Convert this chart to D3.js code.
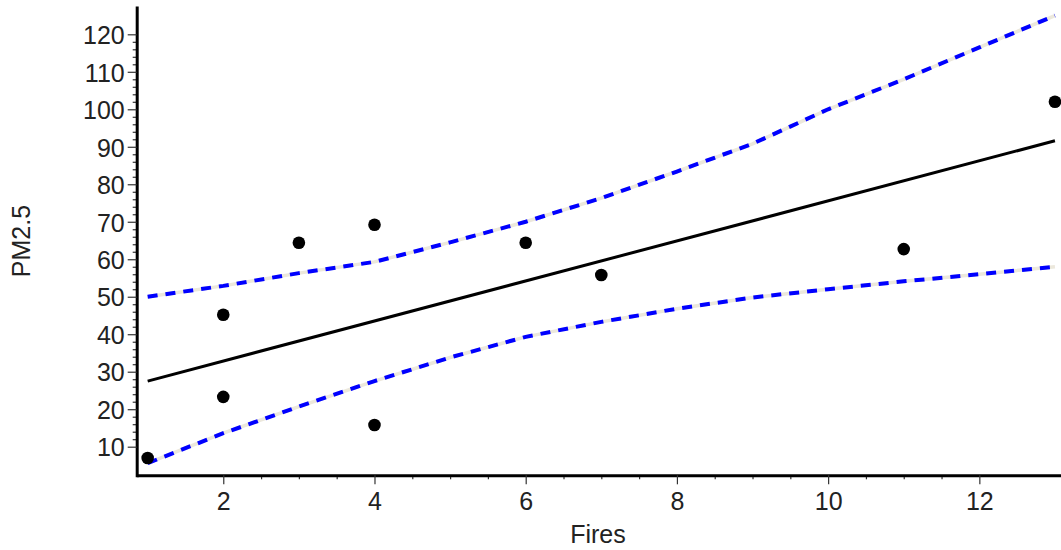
<!DOCTYPE html>
<html>
<head>
<meta charset="utf-8">
<script src="https://cdn.jsdelivr.net/npm/d3@7"></script>
<style>
  body { margin: 0; background: #fff; }
  text { font-family: "Liberation Sans", Arial, sans-serif; fill: #222; }
</style>
</head>
<body>
<div id="chart"></div>
<script>
// observations
const fires = [1, 2, 2, 3, 4, 4, 6, 7, 11, 13];
const pm25  = [7.0, 45.2, 23.3, 64.4, 69.2, 15.8, 64.4, 55.8, 62.7, 102.0];

// fitted line (ends)
const fitX = [1, 13];
const fitY = [27.5, 91.6];

// confidence band
const bandX     = [1, 2, 3, 4, 5, 6, 7, 8, 9, 10, 11, 12, 13];
const upperBand = [50.0, 52.9, 56.3, 59.3, 64.5, 70.0, 76.3, 83.4, 90.8, 100.0, 108.0, 116.5, 125.0];
const lowerBand = [5.6, 13.6, 20.7, 27.5, 33.8, 39.3, 43.3, 46.8, 49.8, 52.0, 54.1, 56.0, 58.0];

const xTicks = [2, 4, 6, 8, 10, 12];
const yTicks = [10, 20, 30, 40, 50, 60, 70, 80, 90, 100, 110, 120];

const width = 1061, height = 550;
const margin = ({top: 7.5, right: 0, bottom: 74.7, left: 136.7});

let x = d3.scaleLinear()
    .domain([0.855, 13.08])
    .range([margin.left, width - margin.right]);

let y = d3.scaleLinear()
    .domain([2.37, 127.15])
    .range([height - margin.bottom, margin.top]);

let svg = d3.select("#chart").append("svg").attr("width", width).attr("height", height);

// minor ticks first, then major ticks with labels
const xMinor = d3.range(xTicks[0], xTicks[xTicks.length - 1] + 0.01, 0.5).filter(v => v % 2 != 0);
const yMinor = d3.range(yTicks[0], yTicks[yTicks.length - 1] + 0.01, 2).filter(v => v % 10 != 0);

svg.append("g")
  .attr("transform", `translate(0,${height - margin.bottom})`)
  .call(d3.axisBottom(x).tickValues(xMinor).tickSize(4).tickFormat("").tickSizeOuter(0))
  .call(g => g.select(".domain").remove());

svg.append("g")
  .attr("transform", `translate(${margin.left},0)`)
  .call(d3.axisLeft(y).tickValues(yMinor).tickSize(4).tickFormat("").tickSizeOuter(0))
  .call(g => g.select(".domain").remove());

let xAxis = svg.append("g")
  .attr("transform", `translate(0,${height - margin.bottom})`)
  .call(d3.axisBottom(x).tickValues(xTicks).tickSize(9).tickPadding(8).tickSizeOuter(0));

let yAxis = svg.append("g")
  .attr("transform", `translate(${margin.left},0)`)
  .call(d3.axisLeft(y).tickValues(yTicks).tickSize(9).tickPadding(3).tickSizeOuter(0));

svg.selectAll(".tick line").attr("stroke", "#333").attr("stroke-width", 1.2);
svg.selectAll(".tick text").style("font-size", "25px").attr("fill", "#222")
  .style("font-family", '"Liberation Sans", Arial, sans-serif');
yAxis.selectAll(".tick text").attr("dy", "0.37em");
xAxis.selectAll(".tick text").attr("dy", "0.71em");

xAxis.select(".domain").attr("stroke", "#000").attr("stroke-width", 3);
yAxis.select(".domain").attr("stroke", "#000").attr("stroke-width", 3)
  .attr("stroke-linecap", "square");

// axis labels
svg.append("text")
  .attr("text-anchor", "middle")
  .attr("x", 598)
  .attr("y", 543)
  .style("font-size", "25px")
  .text("Fires");

svg.append("text")
  .attr("text-anchor", "middle")
  .attr("transform", "translate(30,241) rotate(-90)")
  .style("font-size", "25px")
  .text("PM2.5");

// confidence band: beige under-stroke, blue dashes on top
let bandLine = d3.line()
  .x(d => x(d[0]))
  .y(d => y(d[1]));

[upperBand, lowerBand].forEach(band => {
  let pts = bandX.map((v, i) => [v, band[i]]);
  svg.append("path")
    .datum(pts)
    .attr("fill", "none")
    .attr("stroke", "#ece8dc")
    .attr("stroke-width", 3.5)
    .attr("d", bandLine);
  svg.append("path")
    .datum(pts)
    .attr("fill", "none")
    .attr("stroke", "#0000ff")
    .attr("stroke-width", 4)
    .attr("stroke-dasharray", "10,8")
    .attr("d", bandLine);
});

// fit line
svg.append("path")
  .datum(fitX.map((v, i) => [v, fitY[i]]))
  .attr("fill", "none")
  .attr("stroke", "#000")
  .attr("stroke-width", 3)
  .attr("d", bandLine);

// points
svg.selectAll("circle.obs")
  .data(fires.map((v, i) => [v, pm25[i]]))
  .enter().append("circle")
    .attr("class", "obs")
    .attr("cx", d => x(d[0]))
    .attr("cy", d => y(d[1]))
    .attr("r", 6.3)
    .attr("fill", "#000");
</script>
</body>
</html>
